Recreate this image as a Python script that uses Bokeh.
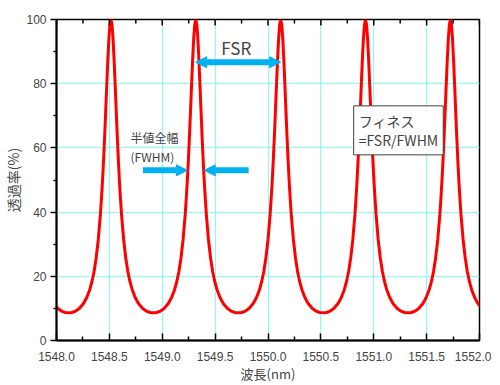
import math
from bokeh.plotting import figure
from bokeh.models import (Range1d, FixedTicker, Arrow, NormalHead, Label)
from bokeh.embed import file_html
from bokeh.resources import INLINE

# ---- data ----
peaks = [1547.713, 1548.515, 1549.317, 1550.120, 1550.922, 1551.725, 1552.527]
# one half-period profile (offset from peak in nm -> transmission %)
prof_d = [0.0, 0.01, 0.02, 0.03, 0.04, 0.05, 0.06, 0.07, 0.08, 0.09, 0.10,
          0.12, 0.14, 0.16, 0.18, 0.20, 0.23, 0.26, 0.30, 0.34, 0.37, 0.40]
prof_t = [100.0, 98.4, 93.9, 87.2, 79.4, 71.3, 63.4, 56.2, 49.7, 44.3, 39.2,
          31.4, 25.7, 21.4, 18.3, 15.9, 13.3, 11.5, 9.95, 9.07, 8.73, 8.62]

x_ticks = [1548.0, 1548.5, 1549.0, 1549.5, 1550.0, 1550.5, 1551.0, 1551.5, 1552.0]
x_tick_labels = ["1548.0", "1548.5", "1549.0", "1549.5", "1550.0",
                 "1550.5", "1551.0", "1551.5", "1552.0"]
x_minor = [1548.25, 1548.75, 1549.25, 1549.75, 1550.25, 1550.75, 1551.25, 1551.75]
y_ticks = [0, 20, 40, 60, 80, 100]
y_minor = [10, 30, 50, 70, 90]

fwhm_half = 0.08
arrow_y_fsr = 86.7
arrow_y_fwhm = 53

# build the curve from the read profile
xs, ys = [], []
left_d = [-d for d in reversed(prof_d[1:])]
left_t = list(reversed(prof_t[1:]))
for pk in peaks:
    for d, t in zip(left_d + prof_d, left_t + prof_t):
        xs.append(pk + d)
        ys.append(t)

JP = "Noto Sans CJK JP"
LAT = "Liberation Sans"
BLUE = "#00b0f0"

p = figure(frame_width=423, frame_height=321, x_range=Range1d(1548, 1552), y_range=Range1d(0, 100),
           output_backend="svg", toolbar_location=None,
           min_border_left=0, min_border_right=12, min_border_top=19, min_border_bottom=2)
p.background_fill_color = "white"
p.border_fill_color = "white"
p.outline_line_color = "black"
p.outline_line_width = 1.5

# grid
p.xgrid.ticker = FixedTicker(ticks=x_ticks)
p.ygrid.ticker = FixedTicker(ticks=y_ticks)
for g in (p.xgrid, p.ygrid):
    g.grid_line_color = "#80ffff"
    g.grid_line_width = 1

# bottom axis
xa = p.xaxis[0]
xa.ticker = FixedTicker(ticks=x_ticks, minor_ticks=x_minor)
xa.major_label_overrides = {t: l for t, l in zip(x_ticks, x_tick_labels)}
xa.major_tick_in = 7
xa.major_tick_out = 0
xa.minor_tick_in = 4
xa.minor_tick_out = 0
xa.axis_line_width = 2
xa.major_tick_line_width = 1.5
xa.minor_tick_line_width = 1.5
xa.major_label_text_font = LAT
xa.major_label_text_font_size = "12px"
xa.major_label_standoff = 11
xa.axis_label = "波長(nm)"
xa.axis_label_text_font = JP
xa.axis_label_text_font_size = "13px"
xa.axis_label_text_font_style = "normal"
xa.axis_label_standoff = 0

# left axis
ya = p.yaxis[0]
ya.ticker = FixedTicker(ticks=y_ticks, minor_ticks=y_minor)
ya.major_tick_in = 0
ya.major_tick_out = 6
ya.minor_tick_in = 0
ya.minor_tick_out = 3
ya.axis_line_width = 2
ya.major_tick_line_width = 1.5
ya.minor_tick_line_width = 1.5
ya.major_label_text_font = LAT
ya.major_label_text_font_size = "12px"
ya.major_label_standoff = 4
ya.axis_label = "透過率(%)"
ya.axis_label_text_font = JP
ya.axis_label_text_font_size = "14px"
ya.axis_label_text_font_style = "normal"
ya.axis_label_standoff = 0

# curve
p.line(xs, ys, line_color="#ff0000", line_width=3, line_join="round")

# inward ticks on the top edge (half of each dash is clipped by the frame)
p.scatter(x=x_ticks, y=[100] * len(x_ticks), marker="dash", angle=math.pi / 2,
          size=12, line_color="black", line_width=1.5)
p.scatter(x=x_minor, y=[100] * len(x_minor), marker="dash", angle=math.pi / 2,
          size=8, line_color="black", line_width=1.5)

# arrows
def head():
    return NormalHead(size=11, fill_color=BLUE, line_color=BLUE, line_width=1)

p.add_layout(Arrow(start=head(), end=head(), x_start=peaks[2], y_start=arrow_y_fsr,
                   x_end=peaks[3], y_end=arrow_y_fsr, line_color=BLUE, line_width=6))
p.add_layout(Arrow(end=head(), x_start=peaks[2] - 0.5, y_start=arrow_y_fwhm,
                   x_end=peaks[2] - fwhm_half, y_end=arrow_y_fwhm, line_color=BLUE, line_width=6))
p.add_layout(Arrow(end=head(), x_start=peaks[2] + 0.5, y_start=arrow_y_fwhm,
                   x_end=peaks[2] + fwhm_half, y_end=arrow_y_fwhm, line_color=BLUE, line_width=6))

# texts
p.add_layout(Label(x=1549.70, y=91.2, text="FSR", text_font=JP,
                   text_font_size="17px", text_align="center", text_baseline="middle"))
p.add_layout(Label(x=1548.70, y=63.1, text="半値全幅", text_font=JP,
                   text_font_size="12px", text_align="left", text_baseline="middle"))
p.add_layout(Label(x=1548.70, y=57.3, text="(FWHM)", text_font=JP,
                   text_font_size="12px", text_align="left", text_baseline="middle"))
p.add_layout(Label(x=1550.81, y=73.1, text="フィネス\n=FSR/FWHM", text_font=JP,
                   text_font_size="14px", text_align="left", text_baseline="top",
                   text_line_height=0.95,
                   background_fill_color="white", border_line_color="#404040",
                   border_line_width=1, padding=5))

open("out.html", "w").write(file_html(p, INLINE))
